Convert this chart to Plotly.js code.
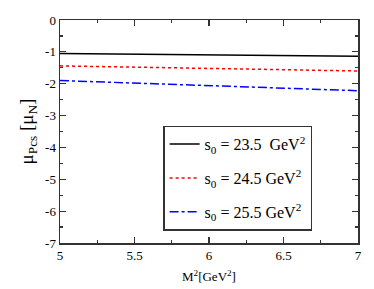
<!DOCTYPE html>
<html><head><meta charset="utf-8">
<script src="https://cdn.plot.ly/plotly-3.0.1.min.js"></script>
<style>html,body{margin:0;padding:0;background:#fff}#c{width:374px;height:289px}</style>
</head><body><div id="c"></div>
<script>
const m2 = [5, 5.5, 6, 6.5, 7];
const s235 = [-1.05, -1.07, -1.09, -1.12, -1.14];
const s245 = [-1.44, -1.48, -1.52, -1.56, -1.60];
const s255 = [-1.90, -1.98, -2.06, -2.14, -2.22];
const names = ['s<sub>0</sub> = 23.5  GeV<sup>2</sup>', 's<sub>0</sub> = 24.5 GeV<sup>2</sup>', 's<sub>0</sub> = 25.5 GeV<sup>2</sup>'];
const font = 'Liberation Serif, Times New Roman, serif';
const traces = [
  {x: m2, y: s235, name: names[0], legendgroup: 'a', mode: 'lines', line: {color: '#000', width: 1.5, dash: 'solid'}},
  {x: m2, y: s245, name: names[1], legendgroup: 'b', mode: 'lines', line: {color: '#ff0000', width: 1.5, dash: 'dot'}},
  {x: m2, y: s255, name: names[2], legendgroup: 'c', mode: 'lines', line: {color: '#0000ff', width: 1.5, dash: 'dashdot'}}
];
const axisCommon = {showgrid: false, zeroline: false, showline: true, linecolor: '#333', linewidth: 1.5,
  mirror: 'ticks', ticks: 'inside', ticklen: 6, tickcolor: '#333', tickwidth: 1.2,
  tickfont: {family: font, size: 13, color: '#000'}};
const layout = {
  width: 374, height: 289, margin: {l: 60, r: 16, t: 20, b: 46},
  paper_bgcolor: '#fff', plot_bgcolor: '#fff', font: {family: font, color: '#000'},
  xaxis: Object.assign({}, axisCommon, {range: [5, 7], tickvals: [5, 5.5, 6, 6.5, 7], ticktext: ['5','5.5','6','6.5','7'],
    minor: {dtick: 0.25, ticklen: 3, tickcolor: '#333', ticks: 'inside'},
    title: {text: 'M<sup>2</sup>[GeV<sup>2</sup>]', font: {family: font, size: 13}, standoff: 10}}),
  yaxis: Object.assign({}, axisCommon, {range: [-7, 0], tickvals: [0,-1,-2,-3,-4,-5,-6,-7], ticktext: ['0','-1','-2','-3','-4','-5','-6','-7'],
    minor: {dtick: 0.5, ticklen: 3, tickcolor: '#333', ticks: 'inside'},
    title: {text: 'μ<sub>Pcs</sub> [μ<sub>N</sub>]', font: {family: font, size: 19}, standoff: 6}}),
  legend: {x: 0.346, y: 0.526, xanchor: 'left', yanchor: 'top', bordercolor: '#333', borderwidth: 1.5,
    bgcolor: '#fff', font: {family: font, size: 16}, tracegroupgap: 10, itemwidth: 30},
  showlegend: true
};
Plotly.newPlot('c', traces, layout, {staticPlot: true, displayModeBar: false});
</script></body></html>
